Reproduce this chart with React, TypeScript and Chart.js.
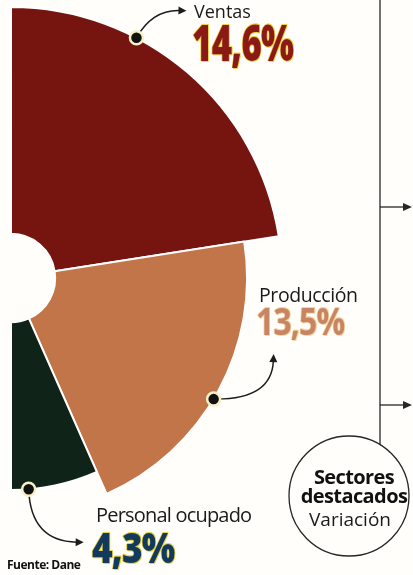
import { useEffect, useRef } from 'react';
import { Chart, DoughnutController, registerables } from 'chart.js';

// ---- data ----
const sectors = ['Ventas', 'Producción', 'Personal ocupado'];
const variation = [14.6, 13.5, 4.3];
const sectorColors = ['#761510', '#c27548', '#0f2318'];
const title = ['Sectores', 'destacados'];
const subtitle = 'Variación';
const source = 'Fuente: Dane';

const fmt = (v: number) => v.toFixed(1).replace('.', ',') + '%';

// Doughnut whose slices may reach different lengths (share of ring thickness)
class SectorFanController extends DoughnutController {
  static id = 'sectorFan';
  static defaults = DoughnutController.defaults;
  static overrides = DoughnutController.overrides;
  updateElements(arcs: any[], start: number, count: number, mode: any) {
    super.updateElements(arcs, start, count, mode);
    const reach: number[] = (this.getDataset() as any).reach || [];
    const me: any = this;
    for (let i = start; i < start + count; i++) {
      const f = reach[i] ?? 1;
      arcs[i].outerRadius = me.innerRadius + (me.outerRadius - me.innerRadius) * f;
    }
  }
}

Chart.register(...registerables, SectorFanController);

const calloutPlugin = {
  id: 'callouts',
  afterDatasetsDraw(chart: any, _args: any, opts: any) {
    const meta = chart.getDatasetMeta(0);
    const ctx = chart.ctx as CanvasRenderingContext2D;
    (opts.items || []).forEach((c: any, i: number) => {
      const arc: any = meta.data[i];
      if (!arc) return;
      const a = arc.startAngle + (arc.endAngle - arc.startAngle) * c.at;
      const px = arc.x + Math.cos(a) * arc.outerRadius;
      const py = arc.y + Math.sin(a) * arc.outerRadius;
      const cx = px + c.ctrl[0];
      const cy = py + c.ctrl[1];
      const tx = px + c.tip[0];
      const ty = py + c.tip[1];
      const ang = Math.atan2(ty - cy, tx - cx);
      const hl = 8;
      const bx = tx - Math.cos(ang) * (hl - 1);
      const by = ty - Math.sin(ang) * (hl - 1);
      ctx.save();
      ctx.strokeStyle = '#1c1c1c';
      ctx.fillStyle = '#1c1c1c';
      ctx.lineWidth = 1.5;
      ctx.beginPath();
      ctx.moveTo(px, py);
      ctx.quadraticCurveTo(cx, cy, bx, by);
      ctx.stroke();
      ctx.beginPath();
      ctx.moveTo(tx, ty);
      ctx.lineTo(tx - Math.cos(ang) * hl + Math.sin(ang) * 4, ty - Math.sin(ang) * hl - Math.cos(ang) * 4);
      ctx.lineTo(tx - Math.cos(ang) * hl - Math.sin(ang) * 4, ty - Math.sin(ang) * hl + Math.cos(ang) * 4);
      ctx.closePath();
      ctx.fill();
      ctx.beginPath();
      ctx.arc(px, py, 6.5, 0, Math.PI * 2);
      ctx.fillStyle = '#111111';
      ctx.fill();
      ctx.lineWidth = 2.5;
      ctx.strokeStyle = '#f6f0c6';
      ctx.stroke();
      ctx.restore();
    });
  },
};

const FONT = '"Open Sans", "Noto Sans", sans-serif';

const nameStyle = [
  { left: 194, top: 2, fontSize: 18, letterSpacing: 0 },
  { left: 259, top: 285, fontSize: 19.5, letterSpacing: -0.4 },
  { left: 96, top: 505, fontSize: 20, letterSpacing: -0.8 },
];
const numStyle = [
  { left: 192, top: 18, fontSize: 49, sx: 0.71, color: '#8b1a16', weight: 800, shadow: '#efcf45' },
  { left: 256, top: 301, fontSize: 38, sx: 0.84, color: '#c98466', weight: 700, shadow: '#f2d9a2' },
  { left: 92, top: 525, fontSize: 43, sx: 0.82, color: '#123a5d', weight: 800, shadow: '#e9d046' },
];

export default function App() {
  const ref = useRef<HTMLCanvasElement | null>(null);

  useEffect(() => {
    if (!ref.current) return;
    const chart = new Chart(ref.current, {
      type: 'sectorFan' as any,
      data: {
        labels: sectors,
        datasets: [
          {
            data: variation,
            backgroundColor: sectorColors,
            borderColor: '#ffffff',
            borderWidth: 2,
            reach: [1, 0.846, 0.74],
          } as any,
        ],
      },
      options: {
        animation: false,
        responsive: true,
        maintainAspectRatio: false,
        events: [],
        rotation: 0,
        circumference: 180,
        cutout: '16.3%',
        layout: { padding: 0 },
        plugins: {
          legend: { display: false },
          tooltip: { enabled: false },
          callouts: {
            items: [
              { at: 0.34, ctrl: [16, -28], tip: [50, -27] },
              { at: 0.53, ctrl: [58, 1], tip: [60, -45] },
              { at: 0.8, ctrl: [2, 52], tip: [55, 53] },
            ],
          },
        } as any,
      } as any,
      plugins: [calloutPlugin],
    });
    return () => chart.destroy();
  }, []);

  return (
    <div
      style={{
        position: 'absolute',
        left: 0,
        top: 0,
        width: 413,
        height: 575,
        overflow: 'hidden',
        background: '#fffefa',
        fontFamily: FONT,
        color: '#1a1a1a',
      }}
    >
      <div style={{ position: 'absolute', left: 10, top: 6, width: 273, height: 544 }}>
        <canvas ref={ref} />
      </div>

      <svg width={413} height={575} style={{ position: 'absolute', left: 0, top: 0, pointerEvents: 'none' }}>
        <g stroke="#262626" strokeWidth={1.3} fill="none">
          <line x1={380} y1={0} x2={380} y2={445} />
          <line x1={380} y1={207} x2={404} y2={207} />
          <line x1={380} y1={405} x2={404} y2={405} />
          <circle cx={349} cy={496} r={60} />
        </g>
        <polygon points="412,207 403,203 403,211" fill="#262626" />
        <polygon points="412,405 403,401 403,409" fill="#262626" />
      </svg>

      {sectors.map((s, i) => (
        <div
          key={'n' + i}
          style={{
            position: 'absolute',
            left: nameStyle[i].left,
            top: nameStyle[i].top,
            fontSize: nameStyle[i].fontSize,
            letterSpacing: nameStyle[i].letterSpacing,
            lineHeight: 1,
            whiteSpace: 'nowrap',
          }}
        >
          {s}
        </div>
      ))}

      {variation.map((v, i) => (
        <div
          key={'v' + i}
          style={{
            position: 'absolute',
            left: numStyle[i].left,
            top: numStyle[i].top,
            fontSize: numStyle[i].fontSize,
            fontWeight: numStyle[i].weight,
            color: numStyle[i].color,
            lineHeight: 1,
            whiteSpace: 'nowrap',
            letterSpacing: -1,
            transform: `scaleX(${numStyle[i].sx})`,
            transformOrigin: 'left top',
            textShadow: `1px 1px 0 ${numStyle[i].shadow}, -1px 0 0 ${numStyle[i].shadow}, 0 -1px 0 ${numStyle[i].shadow}, 1px -1px 0 ${numStyle[i].shadow}`,
          }}
        >
          {fmt(v)}
        </div>
      ))}

      <div
        style={{
          position: 'absolute',
          left: 294,
          width: 120,
          top: 467,
          textAlign: 'center',
          fontSize: 20,
          fontWeight: 700,
          lineHeight: '19px',
          letterSpacing: -0.6,
          color: '#111',
        }}
      >
        {title.map((t) => (
          <div key={t}>{t}</div>
        ))}
      </div>
      <div
        style={{
          position: 'absolute',
          left: 290,
          width: 120,
          top: 510,
          textAlign: 'center',
          fontSize: 19,
          lineHeight: 1,
          color: '#1a1a1a',
        }}
      >
        {subtitle}
      </div>

      <div
        style={{
          position: 'absolute',
          left: 7,
          top: 559,
          fontSize: 12,
          fontWeight: 700,
          letterSpacing: -0.5,
          lineHeight: 1,
          color: '#111',
          whiteSpace: 'nowrap',
        }}
      >
        {source}
      </div>
    </div>
  );
}
